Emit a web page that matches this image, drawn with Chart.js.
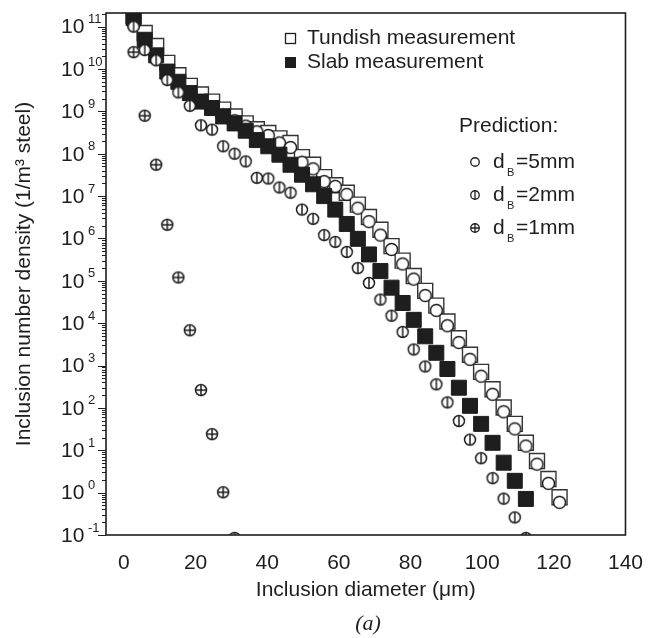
<!DOCTYPE html>
<html>
<head>
<meta charset="utf-8">
<script src="https://cdn.jsdelivr.net/npm/chart.js@4.4.1/dist/chart.umd.min.js"></script>
<style>
  body { margin: 0; background: #fff; }
</style>
</head>
<body>
<canvas id="myChart" width="651" height="638"></canvas>
<script>
// inclusion diameter bins (um), shared by every series
const diameter = [2.7, 5.8, 9.0, 12.1, 15.2, 18.4, 21.5, 24.6, 27.7, 30.9, 34.0, 37.1, 40.3, 43.4, 46.5, 49.7, 52.8, 55.9, 59.0, 62.2,
  65.3, 68.4, 71.6, 74.7, 77.8, 80.9, 84.1, 87.2, 90.3, 93.5, 96.6, 99.7, 102.9, 106.0, 109.1, 112.2, 115.3, 118.5, 121.6];

// number density (1/m3 steel)
const tundish = [1.8e11, 7.1e10, 3.5e10, 1.4e10, 7.1e9, 4.0e9, 2.5e9, 1.7e9, 1.1e9, 7.6e8, 5.2e8, 3.8e8, 3.1e8, 2.3e8, 1.8e8, 8.3e7,
  5.5e7, 2.8e7, 1.8e7, 1.2e7, 6.3e6, 3.2e6, 1.6e6, 6.6e5, 3.0e5, 1.3e5, 5.8e4, 2.6e4, 1.1e4, 4.4e3, 1.8e3, 710, 275, 102, 42, 15,
  5.6, 2.1, 0.78];
const slab = [1.6e11, 4.9e10, 2.1e10, 8.7e9, 5.0e9, 2.7e9, 1.7e9, 1.2e9, 7.6e8, 5.2e8, 3.5e8, 2.1e8, 1.5e8, 9.5e7, 5.5e7, 3.2e7,
  1.9e7, 1.0e7, 4.8e6, 2.2e6, 9.8e5, 4.2e5, 1.7e5, 6.9e4, 3.0e4, 1.2e4, 4.9e3, 2.0e3, 830, 300, 112, 42, 15, 5.1, 1.9, 0.71];
const pred5mm = [1.1e11, 4.0e10, 1.8e10, 8.9e9, 5.0e9, 2.8e9, 1.8e9, 1.2e9, 8.3e8, 6.0e8, 4.5e8, 3.3e8, 2.7e8, 1.8e8, 1.4e8, 6.3e7,
  4.4e7, 2.2e7, 1.7e7, 1.1e7, 5.2e6, 2.5e6, 1.2e6, 5.5e5, 2.5e5, 1.1e5, 4.5e4, 2.0e4, 8.7e3, 3.5e3, 1.4e3, 560, 210, 81, 32, 12.6,
  4.7, 1.66, 0.59];
const pred2mm = [1.0e11, 2.8e10, 1.6e10, 5.5e9, 2.8e9, 1.35e9, 4.7e8, 3.7e8, 1.5e8, 1.0e8, 6.6e7, 2.7e7, 2.6e7, 1.6e7, 1.2e7, 4.8e6,
  2.9e6, 1.2e6, 8.3e5, 4.8e5, 2.0e5, 8.9e4, 3.6e4, 1.5e4, 6.2e3, 2.4e3, 950, 360, 135, 49, 17.8, 6.5, 2.2, 0.72, 0.26, 0.085];
const pred1mm = [2.5e10, 7.9e8, 5.5e7, 2.1e6, 1.2e5, 6.8e3, 263, 24, 1.02, 0.085];

// axes
const xTicks = [0, 20, 40, 60, 80, 100, 120, 140];
const yExps = [-1, 0, 1, 2, 3, 4, 5, 6, 7, 8, 9, 10, 11];
const legendRows = [['5mm', 'circle'], ['2mm', 'phi'], ['1mm', 'plus']];

const FONT = '"Liberation Sans", Arial, sans-serif';
const INK = '#1e1e1e';

// circle markers drawn once into small canvases
function marcador(tipo, d, lw) {
  const s = Math.ceil(d + lw * 2 + 2);
  const c = document.createElement('canvas');
  c.width = s; c.height = s;
  const g = c.getContext('2d');
  const m = s / 2, r = d / 2;
  g.beginPath();
  g.arc(m, m, r, 0, Math.PI * 2);
  g.fillStyle = '#fff';
  g.fill();
  g.strokeStyle = INK;
  g.lineWidth = lw;
  g.stroke();
  if (tipo !== 'circle') {
    g.beginPath();
    g.moveTo(m, m - r); g.lineTo(m, m + r);
    if (tipo === 'plus') { g.moveTo(m - r, m); g.lineTo(m + r, m); }
    g.stroke();
  }
  return c;
}

const big = { circle: marcador('circle', 12, 1.5), phi: marcador('phi', 11, 1.5), plus: marcador('plus', 11, 1.5) };
const small = { circle: marcador('circle', 8.5, 1.3), phi: marcador('phi', 8.5, 1.3), plus: marcador('plus', 8.5, 1.3) };

function puntos(vals) {
  return vals.map((v, i) => ({ x: diameter[i], y: v }));
}

// box, y ticks with superscripts, legend and (a)
const decorations = {
  id: 'decorations',
  afterDraw(chart) {
    const ctx = chart.ctx;
    const a = chart.chartArea;
    const ys = chart.scales.y;
    ctx.save();
    ctx.strokeStyle = INK;
    ctx.lineWidth = 1.6;
    ctx.strokeRect(a.left, a.top, a.right - a.left, a.bottom - a.top);

    // major and minor ticks on the log axis
    ctx.lineWidth = 1.2;
    ctx.beginPath();
    yExps.forEach(e => {
      for (let m = 1; m <= 9; m++) {
        const v = m * Math.pow(10, e);
        if (v > ys.max) break;
        const py = Math.round(ys.getPixelForValue(v)) + 0.5;
        const len = m === 1 ? 8 : 4;
        ctx.moveTo(a.left - len, py);
        ctx.lineTo(a.left, py);
      }
    });
    ctx.stroke();

    ctx.fillStyle = INK;
    ctx.textAlign = 'left';
    ctx.textBaseline = 'middle';
    yExps.forEach(e => {
      const py = ys.getPixelForValue(Math.pow(10, e));
      ctx.font = '21px ' + FONT;
      ctx.fillText('10', 61, py + 1);
      ctx.font = '13px ' + FONT;
      ctx.fillText(String(e), 88, py - 7);
    });

    // legend
    ctx.font = '21px ' + FONT;
    ctx.lineWidth = 1.3;
    ctx.strokeRect(285.5, 33.5, 10, 10);
    ctx.fillText('Tundish measurement', 307, 38);
    ctx.fillRect(285, 57, 11, 11);
    ctx.fillText('Slab measurement', 307, 62);
    ctx.fillText('Prediction:', 459, 126);
    legendRows.forEach((row, k) => {
      const yy = 162 + k * 33;
      const img = small[row[1]];
      ctx.drawImage(img, Math.round(475 - img.width / 2), Math.round(yy - img.height / 2));
      ctx.font = '21px ' + FONT;
      ctx.fillText('d', 493, yy);
      ctx.font = '11px ' + FONT;
      ctx.fillText('B', 507, yy + 11);
      ctx.font = '21px ' + FONT;
      ctx.fillText('=' + row[0], 516, yy);
    });

    ctx.font = 'italic 22px "Liberation Serif", "Times New Roman", serif';
    ctx.textAlign = 'center';
    ctx.fillText('(a)', 368, 624);
    ctx.restore();
  }
};

Chart.defaults.font.family = FONT;
Chart.defaults.color = INK;

const ctx = document.getElementById('myChart').getContext('2d');
const chart = new Chart(ctx, {
  type: 'scatter',
  data: {
    datasets: [
      { label: 'Tundish measurement', data: puntos(tundish), order: 5, clip: 0,
        pointStyle: 'rect', pointRadius: 10.6, borderWidth: 1.4, borderColor: '#333', backgroundColor: '#fff' },
      { label: 'dB=5mm', data: puntos(pred5mm), order: 4, clip: 0, pointStyle: big.circle, pointRadius: 6 },
      { label: 'Slab measurement', data: puntos(slab), order: 3, clip: 0,
        pointStyle: 'rect', pointRadius: 10.6, borderWidth: 1, borderColor: INK, backgroundColor: INK },
      { label: 'dB=2mm', data: puntos(pred2mm), order: 2, clip: 0, pointStyle: big.phi, pointRadius: 6 },
      { label: 'dB=1mm', data: puntos(pred1mm), order: 1, clip: 0, pointStyle: big.plus, pointRadius: 6 }
    ]
  },
  options: {
    responsive: false,
    animation: false,
    events: [],
    layout: { padding: { left: 0, right: 17, top: 13, bottom: 0 } },
    plugins: { legend: { display: false }, tooltip: { enabled: false } },
    scales: {
      x: {
        type: 'linear',
        min: -5,
        max: 140,
        afterBuildTicks: s => { s.ticks = xTicks.map(v => ({ value: v })); },
        afterFit: s => { s.height = 103; },
        grid: { display: false },
        border: { display: false },
        ticks: { font: { size: 21 }, padding: 8, maxRotation: 0, autoSkip: false, color: INK },
        title: { display: true, text: 'Inclusion diameter (\u03bcm)', font: { size: 21 }, color: INK, padding: { top: 4, bottom: 35 } }
      },
      y: {
        type: 'logarithmic',
        min: 0.1,
        max: 2.1e11,
        afterFit: s => { s.width = 106; },
        grid: { display: false },
        border: { display: false },
        ticks: { display: false },
        title: { display: true, text: 'Inclusion number density (1/m\u00b3 steel)', font: { size: 21 }, color: INK, padding: { top: 12, bottom: 0 } }
      }
    }
  },
  plugins: [decorations]
});
</script>
</body>
</html>
